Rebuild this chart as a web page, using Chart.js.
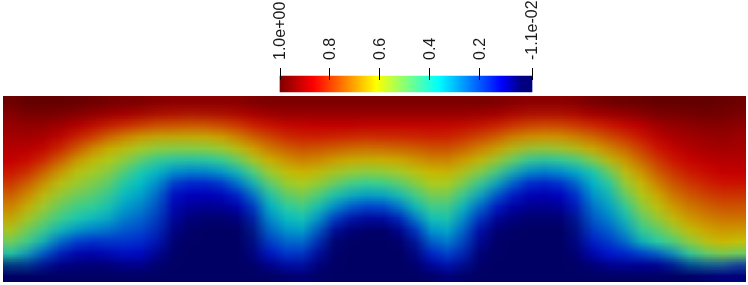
<!DOCTYPE html>
<html>
<head>
<meta charset="utf-8">
<script src="https://cdn.jsdelivr.net/npm/chart.js@4"></script>
<style>
  html, body { margin: 0; padding: 0; background: #fff; overflow: hidden; }
  #barChart { position: absolute; left: 0; top: 0; }
  /* Chart.js writes its own inline size, so force the stretch */
  #heatChart { position: absolute; left: 3px; top: 96px; width: 743px !important; height: 186px !important; }
</style>
</head>
<body>
<canvas id="barChart" width="748" height="93"></canvas>
<canvas id="heatChart" width="46" height="16"></canvas>
<script>
const tickValues = [1, 0.8, 0.6, 0.4, 0.2, -0.011];
const tickLabels = ['1.0e+00', '0.8', '0.6', '0.4', '0.2', '-1.1e-02'];

const rangeMin = -0.011;
const rangeMax = 1;

// colour map stops, same for the bar and the field
const stopValues = [-0.011, 0.03, 0.11, 0.365, 0.615, 0.865, 1];
const stopColors = [[0, 0, 128], [0, 0, 128], [0, 0, 255], [0, 255, 255], [255, 255, 0], [255, 0, 0], [128, 0, 0]];

// the field looks dimmer than the bar in the reference (lighting)
const fieldShade = 0.8;

// one list per column, left to right; each goes top to bottom, in percent
const fieldColumns = [
  [98, 94, 93, 91, 89, 87, 84, 79, 75, 71, 66, 59, 50, 39, 3, 1],
  [100, 96, 93, 91, 88, 85, 79, 74, 69, 63, 56, 49, 43, 29, 3, 1],
  [100, 96, 93, 90, 86, 80, 73, 67, 61, 55, 49, 43, 35, 17, 3, 1],
  [100, 95, 91, 87, 80, 73, 65, 59, 53, 48, 42, 33, 20, 9, 2, 1],
  [100, 93, 88, 81, 73, 65, 59, 54, 48, 43, 38, 26, 14, 7, 2, 1],
  [99, 91, 85, 75, 67, 60, 55, 50, 46, 41, 33, 22, 12, 6, 2, 1],
  [98, 89, 80, 70, 62, 57, 53, 48, 43, 39, 31, 22, 14, 7, 2, 1],
  [97, 87, 77, 66, 59, 52, 45, 39, 34, 30, 25, 20, 16, 9, 2, 1],
  [97, 85, 74, 62, 54, 45, 37, 34, 30, 26, 23, 19, 15, 11, 2, 1],
  [96, 83, 71, 59, 50, 39, 35, 31, 27, 24, 20, 17, 13, 5, 2, 1],
  [95, 82, 71, 59, 47, 35, 25, 15, 10, 9, 7, 5, 3, 2, 1, 0],
  [95, 81, 70, 59, 47, 34, 21, 11, 9, 6, 4, 2, 2, 1, 1, 0],
  [95, 81, 70, 59, 47, 34, 21, 11, 8, 5, 3, 2, 1, 1, 1, 0],
  [95, 82, 72, 61, 49, 36, 23, 12, 8, 5, 3, 2, 1, 1, 1, 0],
  [95, 83, 74, 65, 54, 41, 29, 18, 10, 6, 3, 2, 1, 1, 1, 0],
  [96, 86, 78, 70, 62, 50, 38, 28, 17, 9, 5, 2, 2, 1, 1, 0],
  [97, 88, 81, 74, 68, 60, 51, 43, 35, 31, 26, 21, 16, 10, 3, 1],
  [97, 90, 84, 77, 71, 65, 58, 51, 44, 38, 32, 26, 21, 15, 4, 1],
  [97, 90, 85, 80, 74, 68, 62, 56, 50, 44, 38, 31, 24, 17, 7, 2],
  [97, 90, 86, 79, 73, 67, 60, 52, 45, 37, 30, 22, 15, 7, 2, 1],
  [97, 90, 86, 78, 72, 64, 55, 46, 36, 26, 15, 5, 3, 2, 1, 0],
  [97, 90, 86, 77, 70, 61, 51, 41, 30, 18, 7, 3, 2, 2, 1, 0],
  [97, 90, 85, 76, 69, 59, 48, 38, 26, 14, 4, 3, 2, 1, 1, 0],
  [97, 90, 85, 77, 69, 60, 49, 39, 26, 14, 4, 3, 2, 1, 1, 0],
  [97, 90, 85, 77, 70, 61, 51, 42, 30, 18, 7, 3, 2, 1, 1, 0],
  [97, 90, 85, 78, 71, 64, 56, 48, 39, 30, 18, 9, 3, 2, 1, 0],
  [97, 90, 85, 79, 73, 67, 61, 54, 48, 41, 34, 26, 19, 11, 3, 1],
  [97, 90, 85, 80, 74, 68, 62, 57, 50, 45, 39, 32, 25, 18, 8, 2],
  [97, 90, 84, 78, 72, 65, 57, 50, 41, 35, 30, 25, 20, 15, 4, 1],
  [97, 89, 82, 75, 68, 61, 50, 41, 32, 24, 15, 9, 6, 3, 2, 1],
  [97, 88, 80, 72, 64, 53, 41, 31, 19, 11, 5, 3, 2, 1, 1, 0],
  [96, 85, 76, 67, 58, 45, 32, 20, 11, 6, 4, 2, 2, 1, 1, 0],
  [95, 83, 74, 65, 51, 36, 23, 12, 8, 5, 3, 2, 1, 1, 1, 0],
  [95, 82, 73, 64, 48, 33, 20, 11, 7, 5, 3, 2, 1, 1, 1, 0],
  [95, 82, 73, 64, 50, 35, 22, 12, 8, 5, 3, 2, 1, 1, 1, 0],
  [95, 83, 75, 66, 53, 36, 26, 16, 11, 7, 4, 2, 2, 1, 1, 0],
  [97, 86, 77, 69, 60, 42, 35, 32, 28, 24, 21, 17, 13, 6, 2, 1],
  [98, 88, 80, 73, 66, 55, 41, 35, 31, 28, 24, 20, 16, 12, 2, 1],
  [99, 89, 83, 76, 70, 64, 57, 51, 44, 37, 31, 25, 19, 13, 2, 1],
  [99, 91, 86, 80, 75, 70, 64, 60, 55, 50, 45, 40, 28, 12, 2, 1],
  [100, 94, 90, 85, 81, 76, 72, 67, 62, 57, 50, 44, 38, 12, 2, 1],
  [100, 95, 92, 89, 85, 81, 77, 73, 69, 65, 58, 49, 41, 17, 3, 1],
  [100, 96, 93, 91, 88, 85, 81, 77, 73, 69, 65, 58, 48, 34, 3, 1],
  [100, 97, 94, 92, 90, 87, 83, 80, 76, 72, 68, 64, 55, 42, 5, 1],
  [100, 97, 95, 93, 91, 88, 86, 82, 78, 74, 70, 66, 63, 45, 7, 1],
  [99, 96, 94, 92, 91, 89, 87, 83, 79, 75, 71, 66, 60, 45, 8, 1],
];

const rowCount = fieldColumns[0].length;

function colorFor(value) {
  let i = 0;
  while (i < stopValues.length - 2 && value > stopValues[i + 1]) i++;
  const t = Math.min(1, Math.max(0, (value - stopValues[i]) / (stopValues[i + 1] - stopValues[i])));
  const rgb = stopColors[i].map((c, k) => Math.round((c + (stopColors[i + 1][k] - c) * t) * fieldShade));
  return `rgb(${rgb.join(',')})`;
}

function barGradient(ctx) {
  const chart = ctx.chart;
  const x = chart.scales.x;
  // scales have no pixels yet on the first pass
  if (!x || !Number.isFinite(x.left) || !Number.isFinite(x.right) || x.right <= x.left) return '#000';
  const gradient = chart.ctx.createLinearGradient(x.left, 0, x.right, 0);
  stopValues.forEach((v, i) => {
    const offset = (x.getPixelForValue(v) - x.left) / (x.right - x.left);
    gradient.addColorStop(offset, `rgb(${stopColors[i].join(',')})`);
  });
  return gradient;
}

new Chart(document.getElementById('barChart'), {
  type: 'bar',
  data: {
    labels: ['range'],
    datasets: [{
      data: [[rangeMin, rangeMax]],
      backgroundColor: barGradient,
      barThickness: 16,
      borderWidth: 0,
      borderSkipped: false,
      clip: false,
    }],
  },
  options: {
    indexAxis: 'y',
    responsive: false,
    animation: false,
    devicePixelRatio: 1,
    layout: { padding: { left: 280, right: 216, top: 0, bottom: 5 } },
    plugins: { legend: { display: false }, tooltip: { enabled: false } },
    scales: {
      x: {
        type: 'linear',
        position: 'top',
        reverse: true,
        min: rangeMin,
        max: rangeMax,
        afterBuildTicks: (scale) => { scale.ticks = tickValues.map((value) => ({ value })); },
        afterFit: (scale) => { scale.height = 80; },
        border: { display: false },
        grid: { z: 1, drawOnChartArea: false, drawTicks: true, tickLength: 12, tickColor: '#000', tickWidth: 1 },
        ticks: {
          autoSkip: false,
          minRotation: 90,
          maxRotation: 90,
          padding: 8,
          labelOffset: 20,
          color: '#1a1a1a',
          font: { family: '"Liberation Sans", Arial, sans-serif', size: 16 },
          callback: (value, index) => tickLabels[index],
        },
      },
      y: { display: false },
    },
  },
});

// low-res canvas, stretched by CSS so the browser smooths the cells
new Chart(document.getElementById('heatChart'), {
  type: 'bar',
  data: {
    labels: fieldColumns.map((_, i) => i),
    datasets: Array.from({ length: rowCount }, (_, row) => ({
      data: fieldColumns.map(() => [row, row + 1]),
      backgroundColor: (ctx) => colorFor(fieldColumns[ctx.dataIndex][row] / 100),
      borderWidth: 0,
      borderSkipped: false,
      barPercentage: 1,
      categoryPercentage: 1,
      grouped: false,
    })),
  },
  options: {
    responsive: false,
    animation: false,
    devicePixelRatio: 1,
    layout: { padding: 0 },
    plugins: { legend: { display: false }, tooltip: { enabled: false } },
    scales: {
      x: { display: false, offset: true },
      y: { display: false, type: 'linear', reverse: true, min: 0, max: rowCount },
    },
  },
});
</script>
</body>
</html>
